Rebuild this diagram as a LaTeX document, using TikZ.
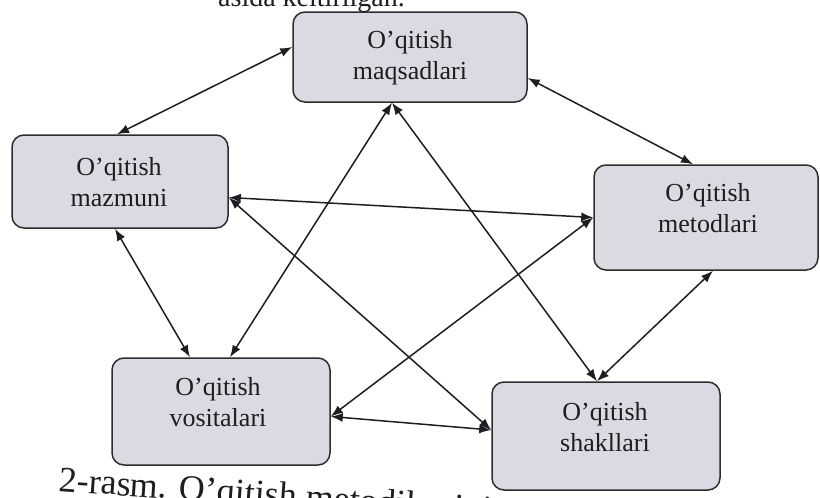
\documentclass[tikz,border=0pt]{standalone}
\usepackage{fontspec}
\setmainfont{Liberation Serif}
\usetikzlibrary{arrows.meta,calc}
\definecolor{boxfill}{RGB}{218,218,226}
\definecolor{boxline}{RGB}{45,45,45}
\definecolor{inkc}{RGB}{30,30,30}
\begin{document}
\begin{tikzpicture}[x=1pt,y=-1pt,
  box/.style={draw=boxline,line width=1.5pt,fill=boxfill,rounded corners=12pt,inner sep=0pt},
  lbl/.style={align=center,font=\fontsize{26}{31}\selectfont,text=inkc,inner sep=0pt},
  link/.style={draw=inkc,line width=1.5pt,{Latex[length=12pt,width=9pt]}-{Latex[length=12pt,width=9pt]}}]
\path[use as bounding box] (0,0) rectangle (820,498);
\clip (0,0) rectangle (820,498);
% boxes
\node[box,minimum width=234pt,minimum height=90pt]  (A) at (410,57)    {};
\node[box,minimum width=216pt,minimum height=93pt]  (B) at (120,181.5) {};
\node[box,minimum width=224pt,minimum height=105pt] (C) at (706,217.5) {};
\node[box,minimum width=218pt,minimum height=107pt] (D) at (221,411.5) {};
\node[box,minimum width=228pt,minimum height=108pt] (E) at (606,436)   {};
% labels
\node[lbl] (At) at (410,58)  {O’qitish\\maqsadlari};
\node[lbl] (Bt) at (119,182) {O’qitish\\mazmuni};
\node[lbl] (Ct) at (708,208) {O’qitish\\metodlari};
\node[lbl] (Dt) at (218,402) {O’qitish\\vositalari};
\node[lbl] (Et) at (605,427) {O’qitish\\shakllari};
% connectors
\draw[link] ([yshift=10pt]A.west)   -- ([xshift=-3pt]B.north);
\draw[link] ([yshift=-21pt]A.east)  -- ([xshift=-13pt]C.north);
\draw[link] ([xshift=-18pt]A.south) -- ([xshift=9pt]D.north);
\draw[link] ([xshift=-18pt]A.south) -- ([xshift=-9pt]E.north);
\draw[link] ([yshift=-16pt]B.east)  -- (C.west);
\draw[link] ([yshift=-16pt]B.east)  -- ([yshift=6pt]E.west);
\draw[link] ([xshift=-5pt]B.south)  -- ([xshift=-31pt]D.north);
\draw[link] (C.west)                -- ([yshift=-5pt]D.east);
\draw[link] ([xshift=7pt]C.south)   -- ([xshift=-9pt]E.north);
\draw[link] ([yshift=-5pt]D.east)   -- ([yshift=6pt]E.west);
% surrounding page text (cut by the page edge, as in the scan)
\node[anchor=base east,inner sep=0pt,font=\fontsize{28}{30}\selectfont,text=inkc] (toptext) at (405,6) {asida keltirilgan.};
\node[anchor=base west,inner sep=0pt,rotate=-4,font=\fontsize{36}{40}\selectfont,text=inkc] (caption) at (58,491) {2-rasm. O’qitish metodikasining};
\end{tikzpicture}
\end{document}
